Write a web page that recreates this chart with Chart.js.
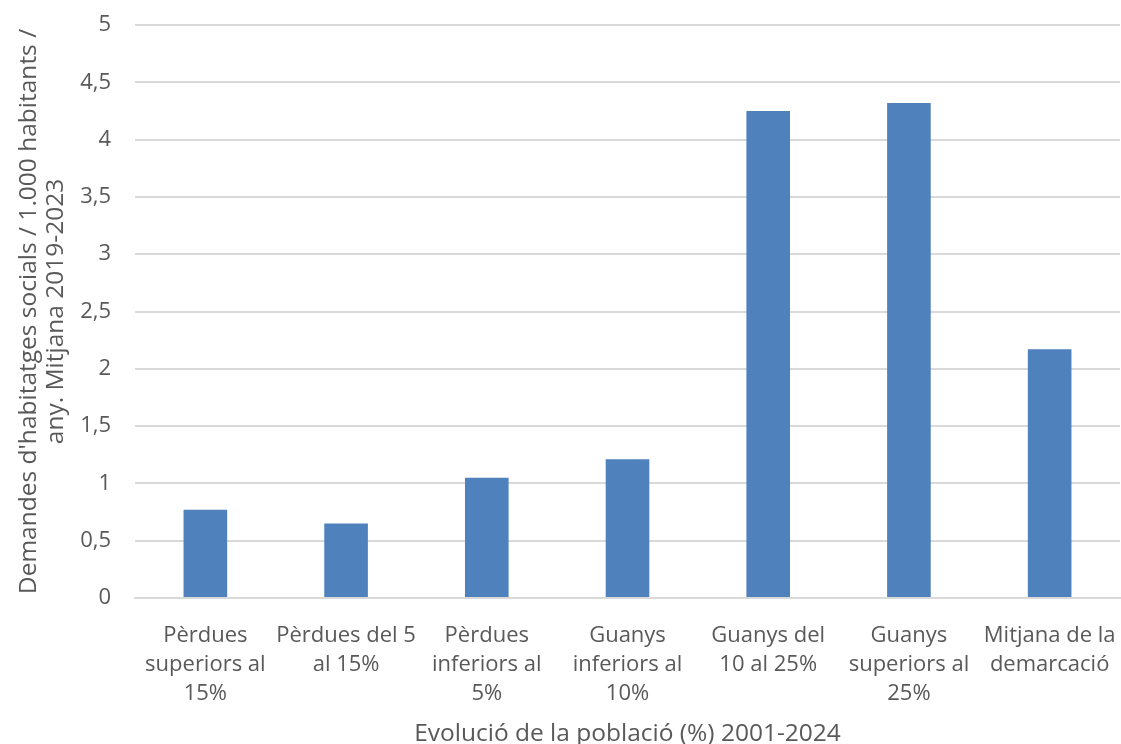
<!DOCTYPE html>
<html>
<head>
<meta charset="utf-8">
<script src="https://cdn.jsdelivr.net/npm/chart.js@4"></script>
<style>
  html, body { margin: 0; padding: 0; background: #fff; }
  #wrap { width: 1121px; height: 744px; }
</style>
</head>
<body>
<div id="wrap"><canvas id="grafico"></canvas></div>
<script>
// categories (una linia per element)
const categories = [
    ['Pèrdues', 'superiors al', '15%'],
    ['Pèrdues del 5', 'al 15%'],
    ['Pèrdues', 'inferiors al', '5%'],
    ['Guanys', 'inferiors al', '10%'],
    ['Guanys del', '10 al 25%'],
    ['Guanys', 'superiors al', '25%'],
    ['Mitjana de la', 'demarcació']
]
const demandes = [0.77, 0.65, 1.05, 1.21, 4.25, 4.32, 2.17]
const yTicks = [0, 0.5, 1, 1.5, 2, 2.5, 3, 3.5, 4, 4.5, 5]

const tituloY = ["Demandes d'habitatges socials / 1.000 habitants /", 'any. Mitjana 2019-2023']
const tituloX = 'Evolució de la població (%) 2001-2024'

const fuente = '"Open Sans", Lato, sans-serif'
const gris = '#595959'

const ctx = document.getElementById('grafico').getContext('2d')

const data = {
    labels: categories,
    datasets: [{
        data: demandes,
        backgroundColor: '#4f81bd',
        categoryPercentage: 1,
        barPercentage: 0.31
    }]
}

const options = {
    responsive: true,
    maintainAspectRatio: false,
    animation: false,
    layout: { padding: { top: 25, right: 1, left: 0, bottom: 0 } },
    scales: {
        x: {
            grid: { display: false },
            border: { color: '#d9d9d9', width: 2 },
            ticks: {
                color: gris,
                font: { family: fuente, size: 22, lineHeight: 1.32 },
                maxRotation: 0,
                autoSkip: false,
                padding: 15
            },
            title: {
                display: true,
                text: tituloX,
                color: gris,
                font: { family: fuente, size: 24.5, lineHeight: 1 },
                padding: { top: 13, bottom: -2 }
            },
            // alçada fixa i sense marge lateral per les etiquetes
            afterFit: axis => {
                axis.height = 146
                axis.paddingLeft = 0
                axis.paddingRight = 0
            }
        },
        y: {
            min: 0,
            max: 5,
            afterBuildTicks: axis => { axis.ticks = yTicks.map(v => ({ value: v })) },
            grid: { color: '#d9d9d9', lineWidth: 2, drawTicks: false },
            border: { display: false },
            ticks: {
                color: gris,
                font: { family: fuente, size: 22 },
                padding: 24,
                callback: v => String(v).replace('.', ',')
            },
            title: {
                display: true,
                text: tituloY,
                color: gris,
                font: { family: fuente, size: 24.5, lineHeight: 1.1 },
                padding: { top: 16, bottom: 0 }
            },
            afterFit: axis => {
                axis.width = 135
                axis.paddingTop = 0
                axis.paddingBottom = 0
            }
        }
    },
    plugins: {
        legend: { display: false },
        tooltip: { enabled: false }
    }
}

new Chart(ctx, { type: 'bar', data, options })
</script>
</body>
</html>
